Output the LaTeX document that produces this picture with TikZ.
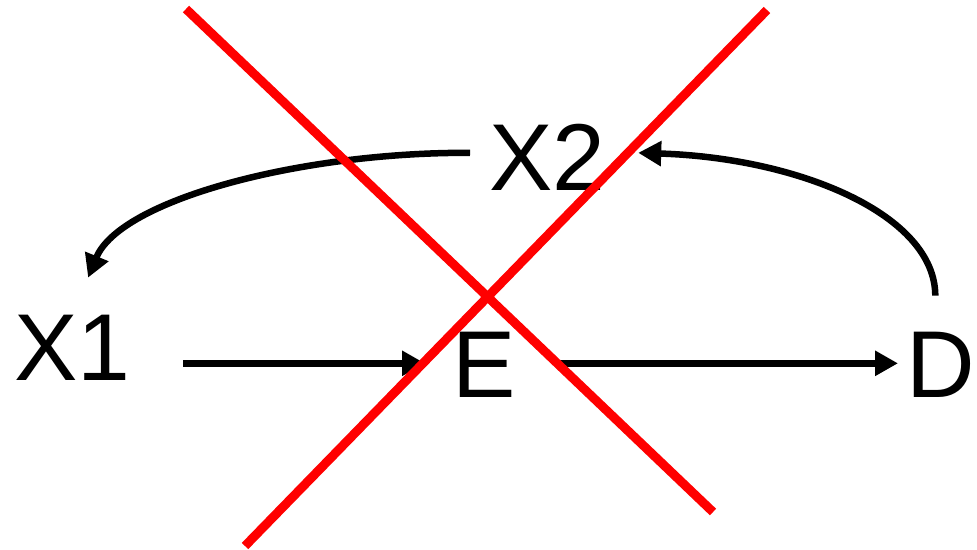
\documentclass[tikz,border=0pt]{standalone}
\usepackage{fontspec}
\setmainfont{Liberation Sans}
\usetikzlibrary{arrows.meta,calc}
\definecolor{crossred}{HTML}{FF0000}
\tikzset{
  lbl/.style={inner sep=0pt, outer sep=0pt, anchor=base west, font=\fontsize{95}{95}\selectfont},
  arr/.style={line width=6.5pt, -{Triangle[length=23pt,width=24pt]}},
  cross/.style={line width=9pt, crossred}
}
\begin{document}
\begin{tikzpicture}[x=1pt,y=-1pt]
\useasboundingbox (0,0) rectangle (977,549);
\node[lbl] (x1) at (14,380) {X1};
\node[lbl] (e)  at (452,397) {E};
\node[lbl] (d)  at (906,397) {D};
\node[lbl] (x2) at (489,190) {X2};
% straight arrows
\draw[arr] ($(x1.east)+(53,16)$) -- ($(e.west)+(-27,-1)$);
\draw[arr] ($(e.east)+(40,-1)$) -- ($(d.west)+(-8,-1)$);
% curved arrows
\draw[arr] ($(x2.west)+(-19,-4)$) .. controls (300,152) and (120,200) .. ($(x1.north)+(16,-37)$);
\draw[arr] ($(d.north)+(-5,-36)$) .. controls (935,215) and (800,158) .. ($(x2.east)+(33,-4)$);
% red cross
\draw[cross] (186,9) -- (713,512);
\draw[cross] (767,10) -- (245,546);
\end{tikzpicture}
\end{document}
